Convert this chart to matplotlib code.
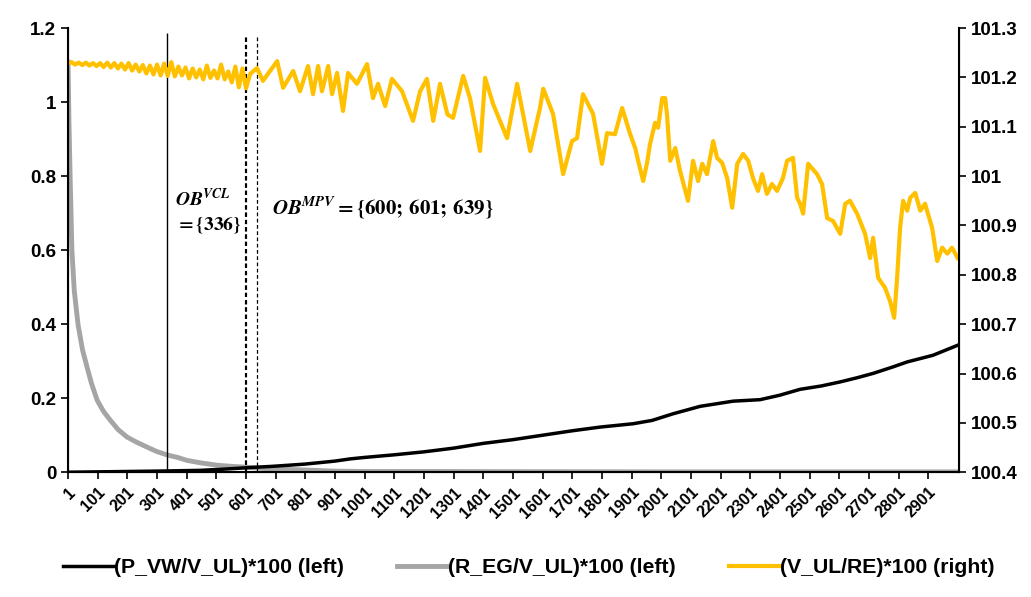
import matplotlib.pyplot as plt

plt.rcParams['font.family'] = ['Liberation Sans', 'DejaVu Sans']
plt.rcParams['font.weight'] = 'bold'
plt.rcParams['mathtext.fontset'] = 'stix'

# (P_VW/V_UL)*100, left axis
pvw_x = [1, 100, 200, 300, 446, 520, 600, 692, 800, 900, 952, 1001, 1100, 1200,
         1300, 1401, 1501, 1601, 1701, 1795, 1906, 1970, 2041, 2132, 2243, 2334,
         2400, 2469, 2540, 2604, 2660, 2715, 2780, 2830, 2917, 3000]
pvw_v = [0.0, 0.001, 0.002, 0.003, 0.005, 0.008, 0.012, 0.016, 0.022, 0.030, 0.036,
         0.040, 0.047, 0.055, 0.065, 0.078, 0.088, 0.100, 0.112, 0.122, 0.131, 0.140,
         0.158, 0.178, 0.192, 0.196, 0.208, 0.224, 0.233, 0.244, 0.255, 0.267, 0.284,
         0.298, 0.316, 0.343]

# (R_EG/V_UL)*100, left axis
reg_x = [1, 4, 8, 14, 22, 35, 50, 65, 80, 99, 120, 143, 170, 200, 230, 267, 300,
         338, 370, 402, 450, 503, 550, 604, 660, 726, 800, 895, 1000, 1200, 1500,
         2000, 2500, 3000]
reg_v = [1.108, 0.95, 0.80, 0.60, 0.49, 0.397, 0.33, 0.284, 0.24, 0.195, 0.165,
         0.141, 0.115, 0.095, 0.082, 0.068, 0.056, 0.046, 0.040, 0.032, 0.025, 0.019,
         0.016, 0.0135, 0.010, 0.008, 0.006, 0.003, 0.002, 0.002, 0.0015, 0.001,
         0.001, 0.001]

# (V_UL/RE)*100, right axis
vul_x = [1, 13, 25, 37, 49, 61, 73, 85, 97, 109, 121, 133, 145, 157, 169, 181, 193,
         205, 217, 229, 241, 253, 265, 277, 289, 301, 313, 325, 337, 349, 361, 373,
         385, 397, 409, 421, 433, 445, 457, 469, 481, 493, 505, 517, 529, 541, 553,
         565, 577, 589, 601,
         615, 638, 658, 706, 726, 760, 783, 810, 827, 844, 857, 878, 891, 908, 928,
         945, 975, 1009, 1029, 1046, 1070, 1093, 1127, 1164, 1188, 1211, 1232, 1255,
         1280, 1299, 1333, 1356, 1390, 1407, 1434, 1481, 1515, 1559, 1592, 1603,
         1636, 1670, 1700, 1717, 1737, 1771, 1801, 1818, 1845, 1869,
         1896, 1913, 1923, 1940, 1953, 1963, 1980, 1990, 2004, 2014, 2020, 2031,
         2048, 2064, 2091, 2108, 2125, 2139, 2155, 2176, 2189, 2206, 2223, 2240,
         2257, 2277, 2294, 2310, 2327, 2341, 2357, 2374, 2391, 2411, 2425, 2445,
         2459, 2469,
         2479, 2496, 2526, 2543, 2560, 2580, 2604, 2621, 2637, 2661, 2688, 2705,
         2715, 2732, 2755, 2772, 2786, 2796, 2806, 2816, 2830, 2840, 2857, 2874,
         2890, 2914, 2931, 2948, 2965, 2981, 3000]
vul_v = [101.228, 101.231, 101.226, 101.230, 101.225, 101.230, 101.224, 101.229,
         101.223, 101.229, 101.221, 101.230, 101.220, 101.229, 101.218, 101.228,
         101.216, 101.229, 101.214, 101.226, 101.212, 101.225, 101.208, 101.224,
         101.206, 101.226, 101.204, 101.228, 101.203, 101.231, 101.202, 101.222,
         101.204, 101.220, 101.198, 101.218, 101.200, 101.216, 101.196, 101.224,
         101.199, 101.214, 101.198, 101.226, 101.196, 101.212, 101.190, 101.222,
         101.180, 101.218, 101.178,
         101.207, 101.219, 101.193, 101.233, 101.179, 101.213, 101.172, 101.223,
         101.166, 101.223, 101.172, 101.223, 101.166, 101.209, 101.132, 101.209,
         101.187, 101.227, 101.158, 101.187, 101.142, 101.197, 101.172, 101.112,
         101.172, 101.197, 101.112, 101.187, 101.125, 101.118, 101.203, 101.158,
         101.051, 101.199, 101.146, 101.077, 101.187, 101.051, 101.138, 101.177,
         101.126, 101.004, 101.071, 101.077, 101.166, 101.126, 101.025, 101.087,
         101.085, 101.138,
         101.085, 101.057, 101.031, 100.990, 101.027, 101.065, 101.108, 101.098,
         101.158, 101.158, 101.126, 101.031, 101.057, 101.011, 100.950, 101.031,
         100.990, 101.025, 101.004, 101.071, 101.037, 101.027, 100.996, 100.936,
         101.025, 101.045, 101.031, 100.996, 100.970, 101.004, 100.964, 100.984,
         100.970, 100.996, 101.031, 101.037, 100.956, 100.944,
         100.924, 101.025, 101.004, 100.984, 100.915, 100.909, 100.883, 100.944,
         100.950, 100.924, 100.883, 100.834, 100.875, 100.794, 100.774, 100.747,
         100.713, 100.794, 100.895, 100.950, 100.930, 100.956, 100.966, 100.930,
         100.944, 100.895, 100.828, 100.855, 100.843, 100.855, 100.834]

ob_vcl = [336]
ob_mpv = [600, 601, 639]

xtick_pos = list(range(1, 3000, 100))
left_ticks = [0, 0.2, 0.4, 0.6, 0.8, 1.0, 1.2]
left_labels = ['0', '0.2', '0.4', '0.6', '0.8', '1', '1.2']
right_ticks = [100.4, 100.5, 100.6, 100.7, 100.8, 100.9, 101.0, 101.1, 101.2, 101.3]
right_labels = ['100.4', '100.5', '100.6', '100.7', '100.8', '100.9', '101',
                '101.1', '101.2', '101.3']

fig = plt.figure(figsize=(10.31, 5.97), dpi=100)
ax = fig.add_axes([0.066, 0.209, 0.864, 0.744])
ax2 = ax.twinx()

l_reg, = ax.plot(reg_x, reg_v, color='#a5a5a5', lw=3.5, label='(R_EG/V_UL)*100 (left)')
l_pvw, = ax.plot(pvw_x, pvw_v, color='black', lw=2.5, label='(P_VW/V_UL)*100 (left)')
l_vul, = ax2.plot(vul_x, vul_v, color='#ffc000', lw=3, label='(V_UL/RE)*100 (right)')

# observation markers
ax.vlines(ob_vcl, 0, 1.186, color='black', lw=1.0)
ax.vlines(ob_mpv[:2], 0, 1.176, color='black', lw=1.5, linestyles=[(0, (2, 1.5))])
ax.vlines(ob_mpv[2:], 0, 1.176, color='black', lw=0.9, linestyles=[(0, (3, 2))])

ax.text(362, 0.705, r'$\mathbfit{OB}^{\mathbfit{VCL}}$' + '\n' + r'$\mathbf{=\{336\}}$',
        fontsize=14, va='center', ha='left', linespacing=1.35)
ax.text(689, 0.713, r'$\mathbfit{OB}^{\mathbfit{MPV}}\mathbf{=\{600;\,601;\,639\}}$',
        fontsize=15, va='center', ha='left')

ax.set_xlim(1, 3004)
ax.set_ylim(0, 1.2)
ax2.set_ylim(100.4, 101.3)

ax.set_xticks(xtick_pos)
ax.set_xticklabels([str(t) for t in xtick_pos], rotation=45, ha='right',
                   rotation_mode='anchor', fontsize=11.5)
ax.set_yticks(left_ticks)
ax.set_yticklabels(left_labels, fontsize=13.5)
ax2.set_yticks(right_ticks)
ax2.set_yticklabels(right_labels, fontsize=13.5)

for a in (ax, ax2):
    a.spines['top'].set_visible(False)
    a.tick_params(direction='out', length=5, width=1.2)
ax.spines['left'].set_linewidth(1.5)
ax.spines['bottom'].set_linewidth(1.5)
ax2.spines['right'].set_linewidth(1.5)
ax.tick_params(axis='x', pad=4)

fig.legend(handles=[l_pvw, l_reg, l_vul], loc='center', bbox_to_anchor=(0.513, 0.049),
           ncol=3, frameon=False, fontsize=15.3, handlelength=2.4, handletextpad=0.0,
           columnspacing=2.5)

fig.savefig('out.png', dpi=100)
